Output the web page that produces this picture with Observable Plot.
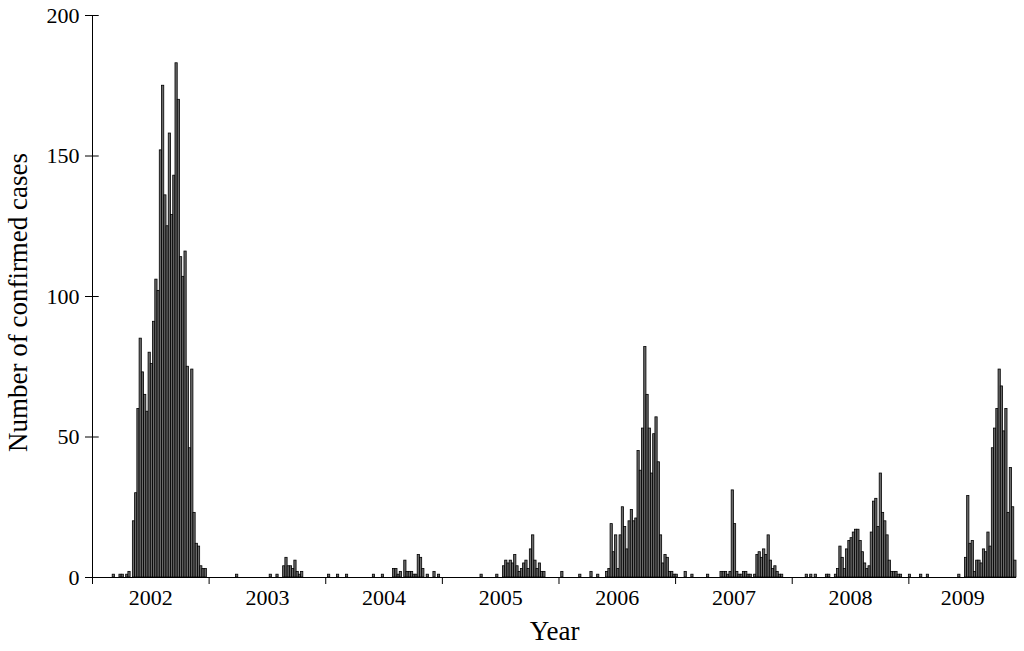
<!DOCTYPE html>
<html>
<head>
<meta charset="utf-8">
<script src="https://cdn.jsdelivr.net/npm/d3@7"></script>
<script src="https://cdn.jsdelivr.net/npm/@observablehq/plot@0.6"></script>
<style>
  html, body { margin: 0; padding: 0; background: white; }
</style>
</head>
<body>
<div id="chart"></div>
<script>
// Weekly confirmed cases, one array per year (weeks 0..51; 2009 has 48 weeks shown)
const yearLabels = ["2002", "2003", "2004", "2005", "2006", "2007", "2008", "2009"];
const cases2002 = [0,0,0,0,0,0,0,0,0, 1,0,0,1,1,0,1,2,0, 20,30,60,85,73,65,59,80,76,91,106,102,152,175,136,125,158,129,143,183,170,114,107,116,75,46,74,23,12,11,4,3,3,0];
const cases2003 = [0,0,0,0,0,0,0,0,0,0,0,0, 1, 0,0,0,0,0,0,0,0,0,0,0,0,0,0, 1,0,0,1,0,0, 4,7,4,4,3,6,2,1,2, 0,0,0,0,0,0,0,0,0,0];
const cases2004 = [0,1,0,0,0,1,0,0,0,1, 0,0,0,0,0,0,0,0,0,0,0, 1, 0,0,0, 1, 0,0,0,0, 3,3,1,2,0,6,2,2,2,1,1,8,7,3,0,1,0,0,2,0,1,0];
const cases2005 = [0,0,0,0,0,0,0,0,0,0,0,0,0,0,0,0,0, 1, 0,0,0,0,0,0, 1, 0,0, 4,6,5,6,5,8,4,2,3,5,6,3,10,15,6,3,5,2,2, 0,0,0,0,0,0];
const cases2006 = [0,2,0,0,0,0,0,0,0,1, 0,0,0,0,2,0,0,1,0,0, 0,2,3, 19,9,15,3,15,25,18,10,20,24,20,21,45,38,53,82,65,53,37,51,57,41,15,5,8,7,2,2,1];
const cases2007 = [1,0,0,0,2,0,0,1,0,0, 0,0,0,0,1,0,0,0,0,0, 2,2,2,1,2,31,19,2,1,1, 2,2,1,1,0,1,8,9,7,10, 8,15,6,3,4,2,1,1,0,0, 0,0];
const cases2008 = [0,0,0,0,0,0,1,0,1,0, 1,0,0,0,0,1,1,0,0,1, 3,11,7,3,10,13,14,16,17,17, 13,9,5,3,4,16,27,28,18,37, 23,20,15,6,2,2,2,1,1,0, 0,0];
const cases2009 = [1,0,0,0,0,1,0,0,1,0, 0,0,0,0,0,0,0,0,0,0, 0,0,1,0,0,7,29,12,13,2, 6,6,5,10,9,16,11,46,53,60, 74,68,52,60,23,39,25,6];
const yTicks = [0, 50, 100, 150, 200];

const allYears = [cases2002, cases2003, cases2004, cases2005, cases2006, cases2007, cases2008, cases2009];
const weeksPerYear = 52;
const totalWeeks = 7 * weeksPerYear + cases2009.length;

const data = allYears.flatMap((arr, yi) =>
  arr.map((v, w) => ({t: yi * weeksPerYear + w, v})).filter(d => d.v > 0));

const boundaries = yearLabels.map((_, i) => i * weeksPerYear);
const centers = yearLabels.map((_, i) => {
  const start = i * weeksPerYear;
  const end = Math.min(start + weeksPerYear, totalWeeks);
  return (start + end) / 2;
});
const labelAt = new Map(centers.map((c, i) => [c, yearLabels[i]]));

const chart = Plot.plot({
  width: 1024,
  height: 651,
  marginLeft: 92,
  marginRight: 8,
  marginTop: 15,
  marginBottom: 74,
  style: {fontFamily: "'Liberation Serif', 'Times New Roman', serif", fontSize: "22px", color: "black", background: "white"},
  x: {domain: [0, totalWeeks], axis: null},
  y: {domain: [0, 200], axis: null},
  marks: [
    Plot.rectY(data, {x1: "t", x2: d => d.t + 1, y: "v", fill: "#6a6a6a", stroke: "black", strokeWidth: 0.8}),
    Plot.ruleY([0], {stroke: "black", strokeWidth: 1}),
    Plot.ruleX([0], {y1: 0, y2: 200, stroke: "black", strokeWidth: 1}),
    Plot.axisY({ticks: yTicks, tickSize: 7, tickPadding: 6, fontSize: 22, label: null, stroke: "black"}),
    Plot.ruleY(yTicks, {x1: 0, x2: 3, stroke: "black", strokeWidth: 1}),
    Plot.axisX({ticks: boundaries, tickSize: 7, tickFormat: () => "", label: null, stroke: "black"}),
    Plot.axisX({ticks: centers, tickSize: 0, tickPadding: 12, tickFormat: d => labelAt.get(d), fontSize: 22, label: null}),
    Plot.text(["Year"], {frameAnchor: "bottom", dy: 62, fontSize: 27, fill: "black"}),
    Plot.text(["Number of confirmed cases"], {frameAnchor: "left", textAnchor: "middle", dx: -74, dy: 6, rotate: -90, fontSize: 27, fill: "black"})
  ]
});
document.getElementById("chart").appendChild(chart);
</script>
</body>
</html>
